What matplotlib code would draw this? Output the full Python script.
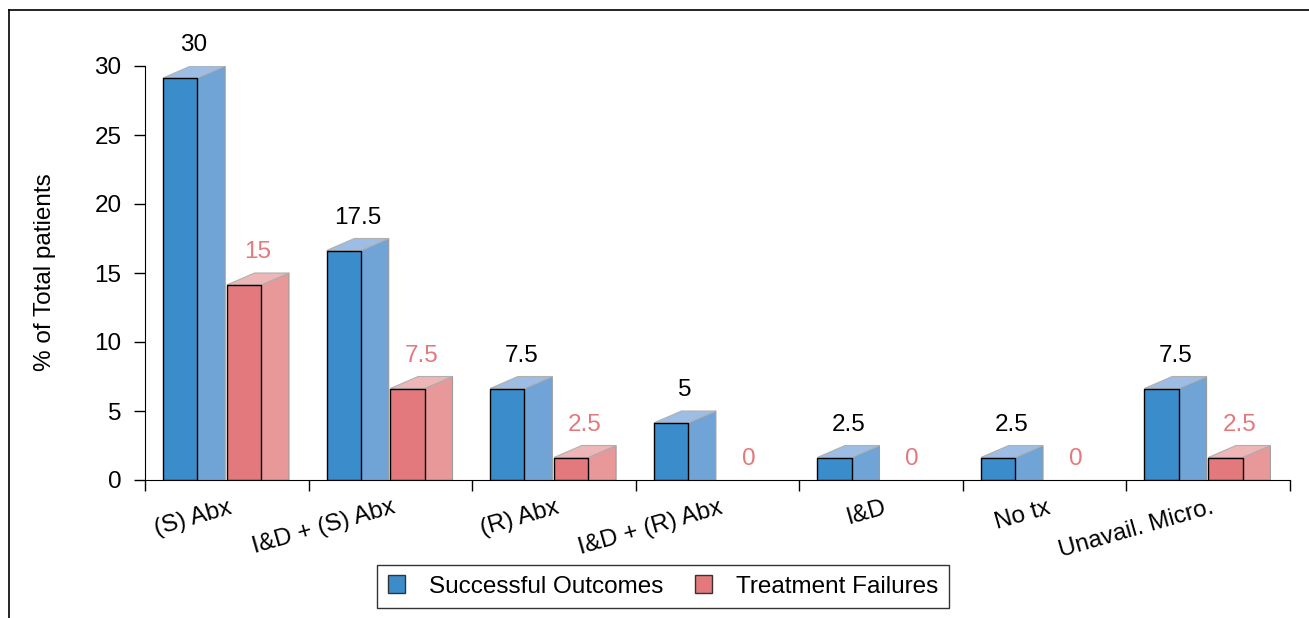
import matplotlib.pyplot as plt
from matplotlib.patches import Rectangle, Polygon, Patch
from matplotlib.lines import Line2D

plt.rcParams['font.family'] = ['Liberation Sans', 'DejaVu Sans']

categories = ['(S) Abx', 'I&D + (S) Abx', '(R) Abx', 'I&D + (R) Abx', 'I&D', 'No tx', 'Unavail. Micro.']
successful = [30, 17.5, 7.5, 5, 2.5, 2.5, 7.5]
failures = [15, 7.5, 2.5, 0, 0, 0, 2.5]
value_labels_s = ['30', '17.5', '7.5', '5', '2.5', '2.5', '7.5']
value_labels_f = ['15', '7.5', '2.5', '0', '0', '0', '2.5']

blue = {'front': '#3A8CCB', 'side': '#70A4D7', 'top': '#9DBDE4'}
red = {'front': '#E3797D', 'side': '#E99899', 'top': '#EEB6B6'}
red_text = '#E3797D'
FS = 17.5

W, H = 1309, 618
fig = plt.figure(figsize=(W / 100, H / 100), dpi=100)
ax = fig.add_axes([145 / W, 1 - 480 / H, (1290 - 145) / W, (480 - 66) / H])
ax.set_xlim(0, 7)
ax.set_ylim(0, 30)

bar_w = 0.21
dx = 0.17
dy = 0.87


def draw_bar(x0, v, cols):
    if v <= 0:
        return
    ax.add_patch(Polygon([(x0 + bar_w, 0), (x0 + bar_w + dx, 0), (x0 + bar_w + dx, v), (x0 + bar_w, v - dy)],
                         closed=True, facecolor=cols['side'], edgecolor='#9a9a9a', lw=0.8, zorder=2))
    ax.add_patch(Polygon([(x0, v - dy), (x0 + bar_w, v - dy), (x0 + bar_w + dx, v), (x0 + dx, v)],
                         closed=True, facecolor=cols['top'], edgecolor='#b0b0b0', lw=0.8, zorder=2))
    ax.add_patch(Rectangle((x0, 0), bar_w, v - dy, facecolor=cols['front'], edgecolor='black', lw=1, zorder=3))


for i in range(len(categories)):
    xs = i + 0.11
    xf = i + 0.50
    draw_bar(xs, successful[i], blue)
    draw_bar(xf, failures[i], red)
    ax.text(xs + bar_w / 2 + dx / 2, successful[i] + 1.5, value_labels_s[i], ha='center', va='center',
            fontsize=FS, color='black', clip_on=False)
    ax.text(xf + bar_w / 2 + dx / 2, failures[i] + 1.5, value_labels_f[i], ha='center', va='center',
            fontsize=FS, color=red_text, clip_on=False)
    ax.text(i + 0.51, -1.2, categories[i], rotation=16, rotation_mode='anchor', ha='right', va='top',
            fontsize=FS, clip_on=False)

# axes styling
for s in ['top', 'right']:
    ax.spines[s].set_visible(False)
ax.spines['left'].set_bounds(0, 30)
ax.spines['bottom'].set_bounds(0, 7)
ax.set_yticks([0, 5, 10, 15, 20, 25, 30])
ax.set_xticks(range(8))
ax.set_xticklabels([])
ax.tick_params(axis='y', length=8, width=1, pad=9, labelsize=FS)
ax.tick_params(axis='x', length=8, width=1)
fig.text(45 / W, 1 - 272 / H, '% of Total patients', rotation=90, ha='center', va='center', fontsize=FS)

handles = [Patch(facecolor=blue['front'], edgecolor='#333333', label='Successful Outcomes'),
           Patch(facecolor=red['front'], edgecolor='#333333', label='Treatment Failures')]
leg = fig.legend(handles=handles, loc='center', bbox_to_anchor=(663 / W, 1 - 586.5 / H), ncol=2,
                 frameon=True, fancybox=False, fontsize=FS, handlelength=0.7, handleheight=0.7,
                 columnspacing=1.3, handletextpad=1.0, borderpad=0.45, borderaxespad=0)
leg.get_frame().set_edgecolor('black')
leg.get_frame().set_linewidth(1)

# outer frame (cropped box)
fig.add_artist(Line2D([8.5 / W, 8.5 / W], [0, 1 - 9.5 / H], color='black', lw=1.2, transform=fig.transFigure))
fig.add_artist(Line2D([8.5 / W, 1], [1 - 9.5 / H, 1 - 9.5 / H], color='black', lw=1.2, transform=fig.transFigure))

fig.savefig('out.png', dpi=100)
